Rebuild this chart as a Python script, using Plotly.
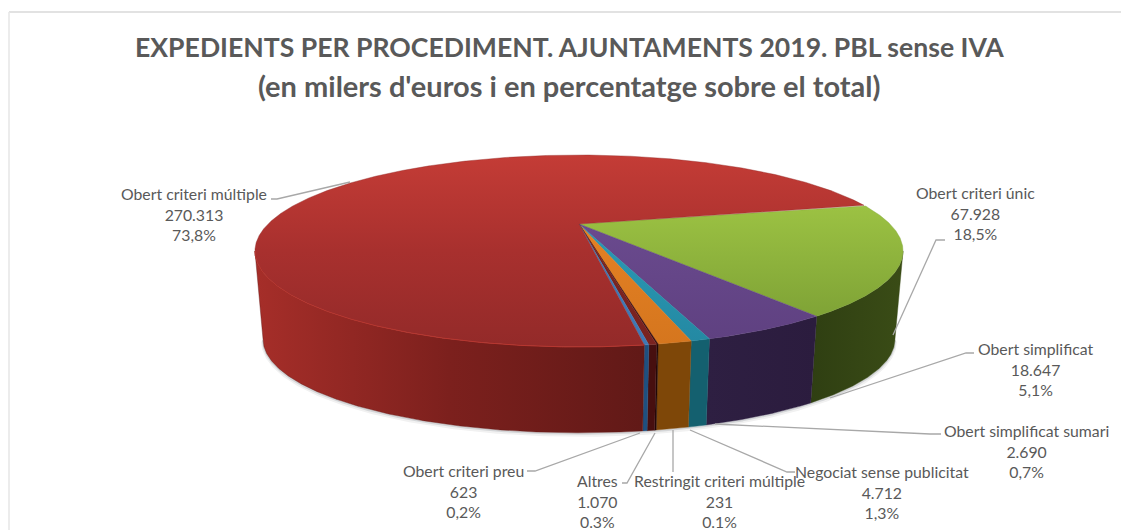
import numpy as np
import plotly.graph_objects as go

# ---- data ----
categories = ["Obert criteri múltiple", "Obert criteri únic", "Obert simplificat",
              "Obert simplificat sumari", "Negociat sense publicitat",
              "Restringit criteri múltiple", "Altres", "Obert criteri preu"]
values = [270313, 67928, 18647, 2690, 4712, 231, 1070, 623]
value_labels = ["270.313", "67.928", "18.647", "2.690", "4.712", "231", "1.070", "623"]
percent_labels = ["73,8%", "18,5%", "5,1%", "0,7%", "1,3%", "0.1%", "0.3%", "0,2%"]

# ---- style ----
top_colors = [["#c43c36", "#a8302e", "#932a29"], ["#9cc243", "#7fa336"], ["#6a4a8e", "#5f4181"],
              ["#2b9ab6", "#2489a3"], ["#e58124", "#d5761e"], ["#3a1010", "#3a1010"],
              ["#7a2320", "#7a2320"], ["#3f78b5", "#3f78b5"]]
wall_colors = [["#a62e29", "#7c201d", "#611917"], ["#2f3f12", "#3a4c16"], ["#2e1f42", "#2b1c3e"],
               ["#14606f", "#14606f"], ["#7e4708", "#7e4708"], ["#200808", "#200808"],
               ["#470f0f", "#470f0f"], ["#1f5080", "#1f5080"]]

# ---- geometry (pixel space of the page) ----
W, H = 1121, 530
CX, CY = 579.0, 224.0
RX, RY, K = 311.0, 88.4, 0.281
DEPTH, SHRINK = 89.0, 0.975
START_DEG = 13.0
RIGHT_LIMIT = -np.arcsin(K)            # where the outline is widest on the right
LEFT_LIMIT = -np.pi + np.arcsin(K)     # and on the left


def project(theta, bottom=False):
    u, v = np.cos(theta), np.sin(theta)
    d = 1 + K * v
    x, y = RX * u / d, -RY * v / d
    if bottom:
        return CX + SHRINK * x, CY + DEPTH + SHRINK * y
    return CX + x, CY + y


def arc(a0, a1):
    n = max(3, int(abs(a1 - a0) / np.radians(0.25)))
    return np.linspace(a0, a1, n)


def stops(colors):
    return [[j / (len(colors) - 1), c] for j, c in enumerate(colors)]


fig = go.Figure()


def scatter_fill(x, y, colors, kind):
    lo, hi = (min(x), max(x)) if kind == "horizontal" else (min(y), max(y))
    fig.add_trace(go.Scatter(
        x=x, y=y, mode="lines", fill="toself", hoverinfo="skip", showlegend=False,
        line=dict(width=0.4, color=colors[-1]),
        fillgradient=dict(type=kind, start=lo, stop=hi, colorscale=stops(colors))))


# slices run clockwise from the start angle; the big red one comes last and closes the round
total = sum(values)
order = [1, 2, 3, 4, 5, 6, 7, 0]
angle = np.radians(START_DEG)
spans = {}
for i in order:
    spans[i] = (angle, angle - 2 * np.pi * values[i] / total)
    angle = spans[i][1]

# soft shadow under the cake
th = arc(RIGHT_LIMIT, LEFT_LIMIT)
sx, sy = project(th, bottom=True)
for w, c, dy in [(4, "#f1f1f1", 2.0), (2, "#d4d6d8", 1.0)]:
    fig.add_trace(go.Scatter(x=sx, y=sy + dy, mode="lines", hoverinfo="skip", showlegend=False,
                             line=dict(color=c, width=w)))

# side walls: only the front part of the rim, between the two widest points
for i in order:
    a0, a1 = spans[i]
    th = arc(min(a0, RIGHT_LIMIT), max(a1, LEFT_LIMIT))
    xt, yt = project(th)
    xb, yb = project(th, bottom=True)
    scatter_fill(np.r_[xt, xb[::-1], xt[0]], np.r_[yt, yb[::-1], yt[0]], wall_colors[i], "horizontal")

# top faces
for i in order:
    th = arc(*spans[i])
    xt, yt = project(th)
    scatter_fill(np.r_[CX, xt, CX], np.r_[CY, yt, CY], top_colors[i], "vertical")

# lit rim of the red slice
th = arc(spans[0][0], LEFT_LIMIT)
rx, ry = project(th)
fig.add_trace(go.Scatter(x=rx, y=ry, mode="lines", hoverinfo="skip", showlegend=False,
                         line=dict(color="#b8362f", width=1)))

# ---- labels and leaders (pixel positions) ----
label_pos = [(194, 214), (975, 213), (1035, 369), (1026, 451),
             (882, 492), (719, 501), (597, 501), (463, 491)]
leaders = [
    [(271, 199), (277, 199), (350, 182)],
    [(945, 240), (936, 240), (893, 335)],
    [(974, 353), (966, 353), (830, 398)],
    [(941, 434), (930, 434), (715, 424)],
    [(795, 472), (787, 472), (690, 430)],
    [(673, 472), (673, 430)],
    [(622, 483), (627, 483), (655, 433)],
    [(527, 471), (535, 471), (640, 433)],
]

for pts in leaders:
    fig.add_trace(go.Scatter(x=[p[0] for p in pts], y=[p[1] for p in pts], mode="lines",
                             hoverinfo="skip", showlegend=False,
                             line=dict(color="#a8a8a8", width=1.3)))

for (x, y), c, v, p in zip(label_pos, categories, value_labels, percent_labels):
    fig.add_annotation(x=x, y=y, xref="x", yref="y", showarrow=False, align="center",
                       text=f"{c}<br>{v}<br>{p}", xanchor="center", yanchor="middle",
                       font=dict(family="Lato", size=15.8, color="#595959"))

title_lines = ["EXPEDIENTS PER PROCEDIMENT. AJUNTAMENTS 2019. PBL sense IVA",
               "(en milers d'euros i en percentatge sobre el total)"]
for text, y, size in zip(title_lines, [47, 85], [26.6, 29]):
    fig.add_annotation(x=569, y=y, xref="x", yref="y", showarrow=False, align="center",
                       text=f"<b>{text}</b>",
                       font=dict(family="Lato", size=size, color="#595959"))

# frame of the original chart
fig.add_trace(go.Scatter(x=[9, 1121], y=[12, 12], mode="lines", hoverinfo="skip",
                         showlegend=False, line=dict(color="#d9d9d9", width=1.6)))
fig.add_trace(go.Scatter(x=[9, 9], y=[12, 530], mode="lines", hoverinfo="skip",
                         showlegend=False, line=dict(color="#e8e8e8", width=1.6)))

fig.update_layout(
    width=W, height=H, margin=dict(l=0, r=0, t=0, b=0), paper_bgcolor="white", plot_bgcolor="white",
    xaxis=dict(range=[0, W], visible=False, fixedrange=True),
    yaxis=dict(range=[H, 0], visible=False, fixedrange=True),
    showlegend=False)

fig.write_html("out.html", post_script="document.body.style.margin='0';document.body.style.overflow='hidden';",
               config={"displayModeBar": False})
